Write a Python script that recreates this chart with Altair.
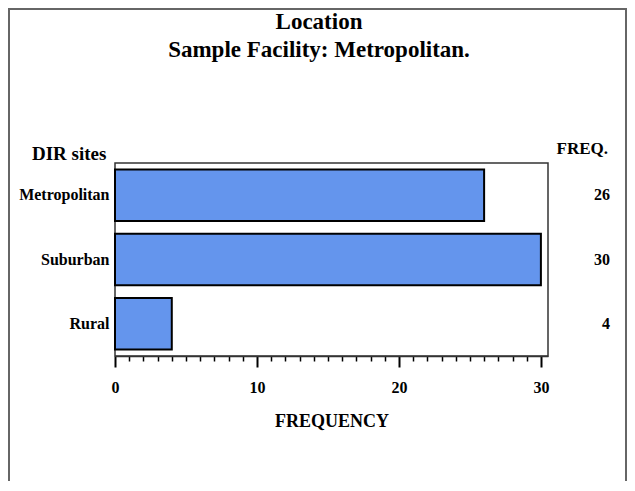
import altair as alt
import pandas as pd

# ---- data ----
sites = ["Metropolitan", "Suburban", "Rural"]
freq = [26, 30, 4]
x_domain = [0, 30.5]
minor_ticks = list(range(0, 31))
title_text = "Location"
subtitle_text = "Sample Facility: Metropolitan."
y_title = "DIR sites"
freq_header = "FREQ."
x_title = "FREQUENCY"

FONT = "Liberation Serif"
W, H = 433, 193
PAD = {"left": 107, "top": 155, "right": 79, "bottom": 125}

df = pd.DataFrame({"site": sites, "freq": freq})

y_enc = alt.Y(
    "site:N",
    sort=sites,
    scale=alt.Scale(paddingInner=0.2, paddingOuter=0.1),
    axis=alt.Axis(
        title=None, ticks=False, domain=False, labelPadding=6,
        labelFont=FONT, labelFontSize=16, labelFontWeight="bold",
        labelColor="black",
    ),
)

x_enc = alt.X(
    "freq:Q",
    scale=alt.Scale(domain=x_domain, nice=False),
    axis=alt.Axis(
        values=minor_ticks,
        labelExpr="datum.value % 10 === 0 ? datum.label : ''",
        labelOverlap=False,
        labelFlush=False,
        grid=False,
        domain=True,
        domainColor="#333",
        domainWidth=1.5,
        tickColor="black",
        tickSize={"condition": {"test": "datum.value % 10 === 0", "value": 11}, "value": 5},
        tickWidth={"condition": {"test": "datum.value % 10 === 0", "value": 2}, "value": 1.5},
        labelPadding=12,
        labelFont=FONT, labelFontSize=16, labelFontWeight="bold", labelColor="black",
        title=x_title, titleFont=FONT, titleFontSize=18, titleFontWeight="bold",
        titleColor="black", titlePadding=17,
    ),
)

bars = alt.Chart(df).mark_bar(
    color="#6495ED", stroke="black", strokeWidth=2
).encode(x=x_enc, y=y_enc)

freq_text = alt.Chart(df).mark_text(
    font=FONT, fontSize=16, fontWeight="bold", align="right", baseline="middle", color="black"
).encode(y=alt.Y("site:N", sort=sites), x=alt.value(495), text="freq:Q")


def label(s, x, y, size, align="center"):
    return alt.Chart(pd.DataFrame({"t": [s]})).mark_text(
        font=FONT, fontSize=size, fontWeight="bold", align=align,
        baseline="alphabetic", color="black",
    ).encode(x=alt.value(x), y=alt.value(y), text="t:N")


border = alt.Chart(pd.DataFrame({"a": [0]})).mark_rect(
    fillOpacity=0, stroke="#666", strokeWidth=2
).encode(
    x=alt.value(-PAD["left"] + 1), x2=alt.value(W + PAD["right"] - 1),
    y=alt.value(-PAD["top"] + 1), y2=alt.value(H + PAD["bottom"] + 20),
)

chart = alt.layer(
    border,
    bars,
    freq_text,
    label(title_text, 204, -134, 23),
    label(subtitle_text, 204, -106, 23),
    label(y_title, -83, -3, 19, align="left"),
    label(freq_header, 493, -9, 17, align="right"),
).properties(
    width=W, height=H, padding=PAD, autosize=alt.AutoSizeParams(type="none")
).configure_view(stroke="#333", strokeWidth=1.5)

chart.save("out.html", embed_options={"renderer": "svg", "actions": False})
